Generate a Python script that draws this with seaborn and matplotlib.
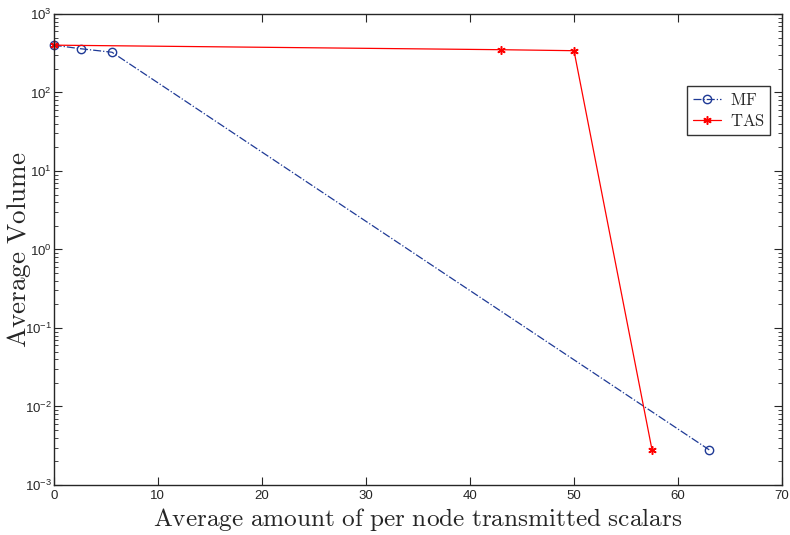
import matplotlib
matplotlib.use("Agg")
import matplotlib.pyplot as plt
import seaborn as sns
import pandas as pd
from matplotlib.ticker import LogLocator

mf_x = [0, 2.6, 5.6, 63.0]
mf_y = [400, 360, 325, 0.0028]
tas_x = [0, 43.0, 50.0, 57.5]
tas_y = [400, 350, 340, 0.0028]

sns.set_style("ticks")
plt.rcParams['font.family'] = ['Liberation Sans', 'DejaVu Sans']
plt.rcParams['mathtext.fontset'] = 'custom'
plt.rcParams['mathtext.rm'] = 'Liberation Sans'

fig = plt.figure(figsize=(7.9, 5.35), dpi=100)
ax = fig.add_axes([0.068, 0.0935, 0.922, 0.8805])

df_mf = pd.DataFrame({"x": mf_x, "y": mf_y})
df_tas = pd.DataFrame({"x": tas_x, "y": tas_y})

navy = "#1f3a96"
sns.lineplot(data=df_mf, x="x", y="y", ax=ax, color=navy, linestyle="-.",
             linewidth=0.9, marker="o", markersize=6, markerfacecolor="none",
             markeredgecolor=navy, markeredgewidth=1.0, label="MF",
             sort=False, estimator=None, clip_on=False)
sns.lineplot(data=df_tas, x="x", y="y", ax=ax, color="#ff0000", linestyle="-",
             linewidth=0.9, marker=(6, 2, 0), markersize=6, markerfacecolor="#ff0000",
             markeredgecolor="#ff0000", markeredgewidth=1.1, label="TAS",
             sort=False, estimator=None, clip_on=False)

ax.set_yscale("log")
ax.set_xlim(0, 70)
ax.set_ylim(1e-3, 1e3)
ax.set_xticks(range(0, 71, 10))
ax.yaxis.set_major_locator(LogLocator(base=10, numticks=10))
ax.yaxis.set_minor_locator(LogLocator(base=10, subs=range(2, 10), numticks=100))
ax.tick_params(which="both", direction="in", top=True, right=True, labelsize=9.5)
ax.tick_params(which="major", length=6, width=0.8)
ax.tick_params(which="minor", length=3, width=0.6)
ax.tick_params(axis="y", which="major", pad=1.5)
for s in ax.spines.values():
    s.set_linewidth(1.0)
    s.set_visible(True)

def cm(s):
    return r"$\mathrm{" + s.replace(" ", r"\ ") + "}$"

ax.set_xlabel(cm("Average amount of per node transmitted scalars"), fontsize=18.2,
              math_fontfamily='cm')
ax.xaxis.set_label_coords(0.5, -0.044)
ax.xaxis.label.set_va("top")
ax.set_ylabel(cm("Average Volume"), fontsize=19.5, math_fontfamily='cm')
ax.yaxis.label.set_va("center")
ax.yaxis.set_label_coords(-0.047, 0.5)

leg = ax.legend([cm("MF"), cm("TAS")], loc="upper left", bbox_to_anchor=(0.858, 0.864),
                frameon=True, fancybox=False, edgecolor="black",
                prop={'size': 12, 'math_fontfamily': 'cm'},
                handlelength=1.7, borderpad=0.35, labelspacing=0.3, handletextpad=0.5)
leg.get_frame().set_linewidth(1.0)

fig.savefig("out.png", dpi=100)
